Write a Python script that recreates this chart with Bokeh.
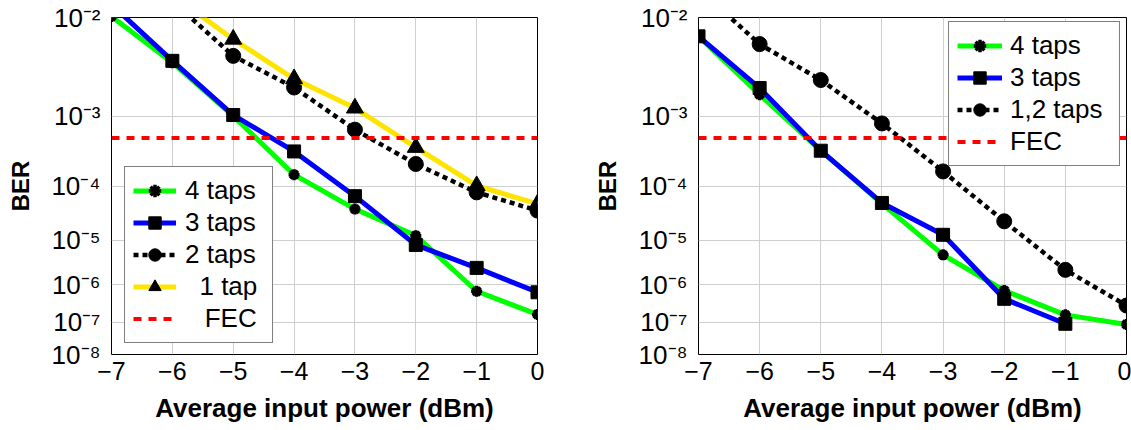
import numpy as np
from bokeh.plotting import figure
from bokeh.models import Range1d, FixedTicker, Legend, LegendItem
from bokeh.layouts import row
from bokeh.embed import file_html
from bokeh.resources import INLINE

# ---------------- data ----------------
power = [-7, -6, -5, -4, -3, -2, -1, 0]
x_tick_labels = ["\u22127", "\u22126", "\u22125", "\u22124", "\u22123", "\u22122", "\u22121", "0"]

ber_ticks = [1e-2, 1e-3, 1e-4, 1e-5, 1e-6, 1e-7, 1e-8]
ber_tick_labels = ["10\u207b\u00b2", "10\u207b\u00b3", "10\u207b\u2074", "10\u207b\u2075",
                   "10\u207b\u2076", "10\u207b\u2077", "10\u207b\u2078"]

# left panel
left_4taps = [1.02e-2, 3.9e-3, 1.0e-3, 1.52e-4, 4.0e-5, 1.24e-5, 6.8e-7, 1.64e-7]
left_3taps = [1.27e-2, 4.07e-3, 1.03e-3, 3.39e-4, 6.75e-5, 8.0e-6, 2.5e-6, 6.4e-7]
left_2taps_power = [-6, -5, -4, -3, -2, -1, 0]
left_2taps = [1.35e-2, 4.55e-3, 2.15e-3, 6.72e-4, 2.22e-4, 7.83e-5, 3.75e-5]
left_1tap_power = [-6, -5, -4, -3, -2, -1, 0]
left_1tap = [1.5e-2, 6.5e-3, 2.67e-3, 1.25e-3, 3.86e-4, 1.01e-4, 4.94e-5]

# right panel
right_4taps = [6.9e-3, 1.79e-3, 3.47e-4, 5.0e-5, 4.9e-6, 7.1e-7, 1.6e-7, 8.5e-8]
right_3taps_power = [-7, -6, -5, -4, -3, -2, -1]
right_3taps = [6.9e-3, 2.12e-3, 3.47e-4, 5.14e-5, 1.29e-5, 4.34e-7, 8.9e-8]
right_12taps = [1.67e-2, 5.87e-3, 2.59e-3, 8.09e-4, 1.71e-4, 2.37e-5, 2.25e-6, 2.88e-7]

fec_ber = 5.2e-4

x_min, x_max = -7, 0
ber_top, ber_bottom = 1e-2, 1e-8

FONT = "Liberation Sans"
GREEN = "#00ff00"
BLUE = "#0000ff"
YELLOW = "#ffe400"
RED = "#ff0000"


def tr(b):
    """BER axis coordinate: -log10(-log10(BER))"""
    return -np.log10(-np.log10(np.asarray(b, dtype=float)))


def make_panel(width, border_left, border_right):
    p = figure(width=width, height=430, output_backend="svg", toolbar_location=None,
               tools="", x_range=Range1d(x_min, x_max),
               y_range=Range1d(float(tr(ber_bottom)), float(tr(ber_top))),
               min_border_left=border_left, min_border_right=border_right,
               min_border_top=17, min_border_bottom=76)
    p.background_fill_color = "white"
    p.border_fill_color = "white"
    p.outline_line_color = "black"
    p.outline_line_width = 1

    yt = [float(v) for v in tr(ber_ticks)]
    p.yaxis.ticker = FixedTicker(ticks=yt)
    p.yaxis.major_label_overrides = {v: lbl for v, lbl in zip(yt, ber_tick_labels)}
    p.yaxis.major_label_text_font = FONT
    p.yaxis.major_label_text_font_size = "26px"
    p.yaxis.major_label_text_color = "black"
    p.yaxis.major_label_standoff = 11
    p.yaxis.axis_label = "BER"
    p.yaxis.axis_label_text_font = FONT
    p.yaxis.axis_label_text_font_size = "24px"
    p.yaxis.axis_label_text_font_style = "bold"
    p.yaxis.axis_label_text_color = "black"
    p.yaxis.axis_label_standoff = 14

    p.xaxis.ticker = FixedTicker(ticks=power)
    p.xaxis.major_label_overrides = {v: lbl for v, lbl in zip(power, x_tick_labels)}
    p.xaxis.major_label_text_font = FONT
    p.xaxis.major_label_text_font_size = "25px"
    p.xaxis.major_label_text_color = "black"
    p.xaxis.major_label_standoff = 7
    p.xaxis.axis_label = "Average input power (dBm)"
    p.xaxis.axis_label_text_font = FONT
    p.xaxis.axis_label_text_font_size = "26px"
    p.xaxis.axis_label_text_font_style = "bold"
    p.xaxis.axis_label_text_color = "black"
    p.xaxis.axis_label_standoff = 10

    for ax in (p.xaxis, p.yaxis):
        ax.major_tick_out = 0
        ax.major_tick_in = 0
        ax.minor_tick_out = 0
        ax.minor_tick_in = 0
        ax.axis_line_color = None

    p.grid.grid_line_color = "#cfcfcf"
    p.grid.grid_line_width = 1
    return p


def series(p, xs, ys, color, marker, msize, dash="solid", lw=5, mlw=1):
    l = p.line(xs, tr(ys), line_color=color, line_width=lw, line_dash=dash)
    s = p.scatter(xs, tr(ys), marker=marker, size=msize, fill_color="black",
                  line_color="black", line_width=mlw)
    return [l, s]


def style_legend(lg, glyph_w, label_w, standoff):
    lg.label_text_font = FONT
    lg.label_text_font_size = "26px"
    lg.label_text_color = "black"
    lg.glyph_width = glyph_w
    lg.glyph_height = 31
    lg.label_height = 31
    lg.label_width = label_w
    lg.label_standoff = standoff
    lg.padding = 8
    lg.spacing = 1
    lg.margin = 0
    lg.border_line_color = "black"
    lg.border_line_width = 1
    lg.background_fill_color = "white"
    lg.background_fill_alpha = 1.0


# ---------------- left panel ----------------
p1 = make_panel(587, 111, 50)
r4 = series(p1, power, left_4taps, GREEN, "asterisk", 11, mlw=3.5)
r3 = series(p1, power, left_3taps, BLUE, "square", 13)
r2 = series(p1, left_2taps_power, left_2taps, "black", "circle", 15, dash="5 4", lw=4.5)
r1 = series(p1, left_1tap_power, left_1tap, YELLOW, "triangle", 17)
rf = p1.line([x_min, x_max], tr([fec_ber, fec_ber]), line_color=RED, line_width=4,
             line_dash="8 7")
lg1 = Legend(items=[LegendItem(label="4 taps", renderers=r4),
                    LegendItem(label="3 taps", renderers=r3),
                    LegendItem(label="2 taps", renderers=r2),
                    LegendItem(label="\u20071 tap", renderers=r1),
                    LegendItem(label="\u2007\u2009FEC", renderers=[rf])],
             location=(13, 11))
style_legend(lg1, 43, 79, 9)
p1.add_layout(lg1)

# ---------------- right panel ----------------
p2 = make_panel(544, 111, 5)
q4 = series(p2, power, right_4taps, GREEN, "asterisk", 11, mlw=3.5)
q3 = series(p2, right_3taps_power, right_3taps, BLUE, "square", 13)
q2 = series(p2, power, right_12taps, "black", "circle", 15, dash="5 4", lw=4.5)
qf = p2.line([x_min, x_max], tr([fec_ber, fec_ber]), line_color=RED, line_width=4,
             line_dash="8 7")
lg2 = Legend(items=[LegendItem(label="4 taps", renderers=q4),
                    LegendItem(label="3 taps", renderers=q3),
                    LegendItem(label="1,2 taps", renderers=q2),
                    LegendItem(label="FEC", renderers=[qf])],
             location=(250, 188))
style_legend(lg2, 45, 101, 8)
p2.add_layout(lg2)

layout = row(p1, p2)
open("out.html", "w").write(file_html(layout, INLINE))
